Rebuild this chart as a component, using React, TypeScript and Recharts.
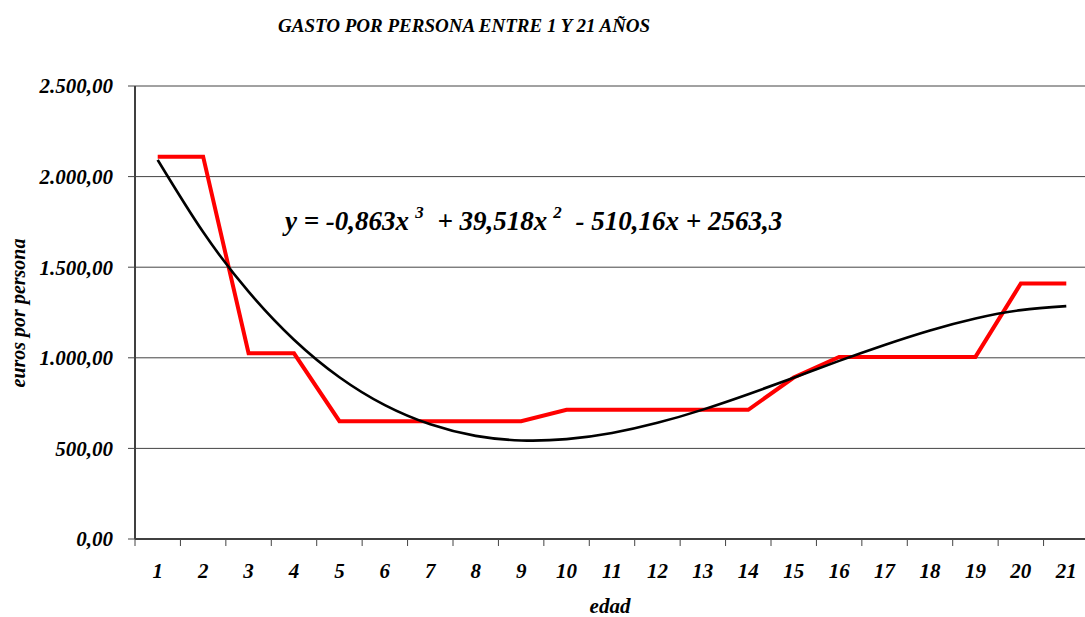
import React from 'react';
import { LineChart, Line, XAxis, YAxis, CartesianGrid } from 'recharts';

const edades = [1, 2, 3, 4, 5, 6, 7, 8, 9, 10, 11, 12, 13, 14, 15, 16, 17, 18, 19, 20, 21];
const ageLabels = ['1', '2', '3', '4', '5', '6', '7', '8', '9', '10', '11', '12', '13', '14', '15', '16', '17', '18', '19', '20', '21'];
const gastoPorPersona = [2110, 2110, 1025, 1025, 650, 650, 650, 650, 650, 713, 713, 713, 713, 713, 891, 1005, 1005, 1005, 1005, 1410, 1410];
const tendencia = [2092, 1694, 1365, 1100, 893, 739, 633, 569, 544, 551, 585, 641, 714, 799, 890, 983, 1071, 1151, 1217, 1263, 1285];
const yTicks = [0, 500, 1000, 1500, 2000, 2500];

const titleText = 'GASTO POR PERSONA ENTRE 1 Y 21 AÑOS';
const yLabelText = 'euros por persona';
const xLabelText = 'edad';

const data = edades.map((e, i) => ({ edad: e, gasto: gastoPorPersona[i], tendencia: tendencia[i] }));
const xTicks = [...edades.flatMap((e) => [e - 0.5, e]), edades[edades.length - 1] + 0.5];

const FONT = "'Liberation Serif', 'Times New Roman', serif";

const fmt = (v: number) => {
  const s = Math.round(v).toString();
  const withDots = s.replace(/\B(?=(\d{3})+(?!\d))/g, '.');
  return withDots + ',00';
};

const XTick = (props: any) => {
  const { x, y, payload } = props;
  const v = payload.value as number;
  if (Number.isInteger(v)) {
    return (
      <text
        x={x}
        y={y + 39}
        textAnchor="middle"
        fill="#000"
        fontSize={21}
        fontFamily={FONT}
        fontWeight={700}
        fontStyle="italic"
      >
        {ageLabels[v - 1]}
      </text>
    );
  }
  return <line x1={x} y1={y} x2={x} y2={y + 7} stroke="#444" strokeWidth={1} />;
};

export default function App() {
  const textBase: React.CSSProperties = {
    position: 'absolute',
    fontFamily: FONT,
    fontWeight: 700,
    fontStyle: 'italic',
    color: '#000',
    whiteSpace: 'nowrap',
  };
  const sup: React.CSSProperties = {
    fontSize: 17,
    position: 'relative',
    top: -12,
    marginLeft: 6,
    marginRight: 7,
  };
  return (
    <div
      style={{
        position: 'fixed',
        left: 0,
        top: 0,
        width: 1085,
        height: 617,
        overflow: 'hidden',
        background: '#fff',
      }}
    >
      <LineChart width={1100} height={617} data={data} margin={{ top: 86, right: 11, bottom: 28, left: 0 }}>
        <CartesianGrid vertical={false} stroke="#444" strokeWidth={1} />
        <XAxis
          dataKey="edad"
          type="number"
          domain={[0.5, 21.5]}
          ticks={xTicks}
          interval={0}
          height={50}
          tickSize={0}
          tickMargin={0}
          tickLine={false}
          tick={<XTick />}
          axisLine={{ stroke: '#404040', strokeWidth: 2 }}
          allowDataOverflow
        />
        <YAxis
          type="number"
          domain={[0, 2500]}
          ticks={yTicks}
          interval={0}
          width={135}
          tickSize={7}
          tickMargin={15}
          tickFormatter={fmt}
          tickLine={{ stroke: '#444', strokeWidth: 1 }}
          axisLine={{ stroke: '#404040', strokeWidth: 2 }}
          tick={{ fill: '#000', fontSize: 21, fontFamily: FONT, fontWeight: 700, fontStyle: 'italic' }}
        />
        <Line
          type="linear"
          dataKey="gasto"
          stroke="#ff0000"
          strokeWidth={4}
          dot={false}
          activeDot={false}
          isAnimationActive={false}
        />
        <Line
          type="natural"
          dataKey="tendencia"
          stroke="#000"
          strokeWidth={2.6}
          dot={false}
          activeDot={false}
          isAnimationActive={false}
        />
      </LineChart>
      <div style={{ ...textBase, left: 278, top: 16, fontSize: 19, lineHeight: '19px' }}>{titleText}</div>
      <div style={{ ...textBase, left: 285, top: 208, fontSize: 27, lineHeight: '27px' }}>
        y = -0,863x<span style={sup}>3</span> + 39,518x<span style={sup}>2</span> - 510,16x + 2563,3
      </div>
      <div
        style={{
          ...textBase,
          left: 18,
          top: 313,
          fontSize: 20,
          lineHeight: '20px',
          transform: 'translate(-50%, -50%) rotate(-90deg)',
        }}
      >
        {yLabelText}
      </div>
      <div
        style={{
          ...textBase,
          left: 610,
          top: 596,
          fontSize: 21,
          lineHeight: '21px',
          transform: 'translateX(-50%)',
        }}
      >
        {xLabelText}
      </div>
    </div>
  );
}
